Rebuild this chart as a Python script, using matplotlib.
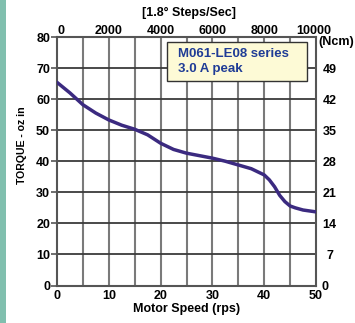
import matplotlib
matplotlib.use("Agg")
import matplotlib.pyplot as plt
from matplotlib.patches import Rectangle

plt.rcParams['font.family'] = ['Liberation Sans', 'DejaVu Sans']
plt.rcParams['font.weight'] = 'bold'

speed_rps = [0, 2.5, 5, 7.5, 10, 12.5, 15, 17.5, 20, 22.5, 25, 27.5, 30, 32.5, 35,
             37.5, 40, 41, 42, 43, 44, 45, 46, 47.5, 50]
torque_ozin = [65.4, 62.0, 58.2, 55.5, 53.3, 51.6, 50.3, 48.5, 45.8, 43.8, 42.6, 41.8,
               41.0, 40.0, 38.8, 37.6, 35.6, 34.0, 31.8, 29.0, 27.0, 25.6, 25.0, 24.3, 23.7]

bottom_ticks = [0, 10, 20, 30, 40, 50]
left_ticks = [0, 10, 20, 30, 40, 50, 60, 70, 80]
top_tick_labels = ['0', '2000', '4000', '6000', '8000', '10000']
right_tick_labels = ['0', '7', '14', '21', '28', '35', '42', '49']
legend_lines = ['M061-LE08 series', '3.0 A peak']

fig = plt.figure(figsize=(3.55, 3.23), dpi=100)
fig.patches.append(Rectangle((0, 0), 6 / 355, 1, transform=fig.transFigure,
                             facecolor='#80bfae', edgecolor='none'))
ax = fig.add_axes([57 / 355, 1 - 285.5 / 323, (316 - 57) / 355, (285.5 - 37) / 323])
ax.set_xlim(0, 50)
ax.set_ylim(0, 80)

for v in range(5, 50, 5):
    ax.axvline(v, color='#7a7a7a', lw=1.5, zorder=1)
for h in range(10, 80, 10):
    ax.axhline(h, color='#3a3a3a', lw=1.3, zorder=1)

ax.plot(speed_rps, torque_ozin, color='#3b2a80', lw=2.5, solid_capstyle='round',
        solid_joinstyle='round', zorder=3)

for s in ax.spines.values():
    s.set_color('#555555')
    s.set_linewidth(1.5)

fs = 9
ax.set_xticks(bottom_ticks)
ax.set_xticklabels([str(t) for t in bottom_ticks], fontsize=fs, fontweight='bold')
ax.set_yticks(left_ticks)
ax.set_yticklabels([str(t) for t in left_ticks], fontsize=fs, fontweight='bold')
ax.tick_params(axis='x', length=0, pad=3)
ax.tick_params(axis='y', length=4, width=1.2, color='#555555', pad=1)

# top axis
for xv, lab in zip(bottom_ticks, top_tick_labels):
    ax.text(xv if xv < 50 else 49.6, 80.9, lab, ha='center' if xv > 0 else 'left',
            va='baseline', fontsize=fs, fontweight='bold', clip_on=False)
ax.text(25.5, 86.6, '[1.8° Steps/Sec]', ha='center', va='baseline', fontsize=fs,
        fontweight='bold', clip_on=False)

# right axis
for i, lab in enumerate(right_tick_labels):
    yv = i * 10
    if i == 0:
        ax.text(51.7, -0.5, lab, ha='center', va='center', fontsize=fs,
                fontweight='bold', clip_on=False)
    else:
        ax.text(52.6, yv - 0.5, lab, ha='center', va='center', fontsize=fs,
                fontweight='bold', clip_on=False)
ax.text(54.0, 78.5, '(Ncm)', ha='center', va='center', fontsize=fs,
        fontweight='bold', clip_on=False)

ax.set_xlabel('Motor Speed (rps)', fontsize=fs, fontweight='bold', labelpad=1)
ax.set_ylabel('TORQUE - oz in', fontsize=7.6, fontweight='bold')
ax.yaxis.set_label_coords(-0.115, 0.565)

# annotation box
ax.add_patch(Rectangle((21.2, 65.8), 27.1, 12.6, facecolor='#fdfad6',
                       edgecolor='#333333', linewidth=1.0, zorder=5))
ax.text(23.4, 73.5, legend_lines[0], ha='left', va='baseline', fontsize=9.5,
        fontweight='bold', color='#1f3c96', zorder=6)
ax.text(23.4, 68.6, legend_lines[1], ha='left', va='baseline', fontsize=9.5,
        fontweight='bold', color='#1f3c96', zorder=6)

fig.savefig('out.png', dpi=100)
